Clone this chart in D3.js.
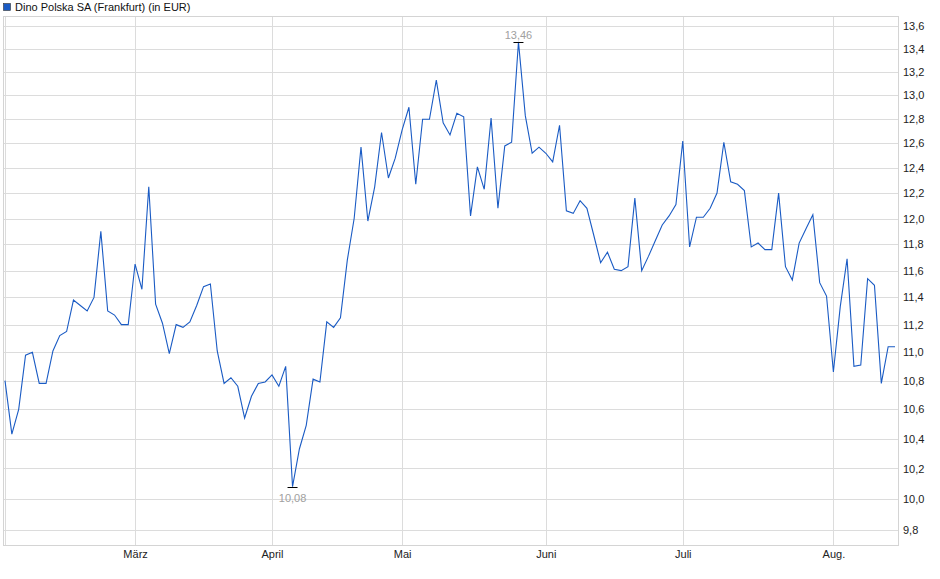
<!DOCTYPE html>
<html>
<head>
<meta charset="utf-8">
<script src="https://cdn.jsdelivr.net/npm/d3@7"></script>
<style>
  body { margin: 0; background: #fff; }
  text { font-family: "Liberation Sans", Arial, sans-serif; font-size: 11px; }
</style>
</head>
<body>
<svg id="chart" width="940" height="579"></svg>
<script>
// Daily closing prices (EUR), one per trading day
const prices = [
  10.80, 10.43, 10.60, 10.98, 11.00, 10.78, 10.78, 11.01, 11.12, 11.15,
  11.38, 11.34, 11.30, 11.40, 11.90, 11.30, 11.27, 11.20, 11.20, 11.65,
  11.46, 12.25, 11.35, 11.21, 10.99, 11.20, 11.18, 11.22, 11.34, 11.48,
  11.50, 11.01, 10.78, 10.82, 10.76, 10.54, 10.69, 10.78, 10.79, 10.84,
  10.76, 10.90, 10.08, 10.33, 10.49, 10.81, 10.79, 11.22, 11.18, 11.25,
  11.68, 12.00, 12.57, 11.98, 12.25, 12.69, 12.32, 12.48, 12.71, 12.90,
  12.27, 12.80, 12.80, 13.13, 12.77, 12.67, 12.85, 12.82, 12.02, 12.41,
  12.23, 12.81, 12.08, 12.58, 12.61, 13.46, 12.83, 12.52, 12.57, 12.52,
  12.45, 12.75, 12.06, 12.04, 12.14, 12.08, 11.87, 11.66, 11.74, 11.61,
  11.60, 11.63, 12.16, 11.60, 11.71, 11.83, 11.95, 12.02, 12.11, 12.62,
  11.78, 12.01, 12.01, 12.08, 12.20, 12.61, 12.29, 12.27, 12.22, 11.78,
  11.81, 11.76, 11.76, 12.20, 11.63, 11.53, 11.81, 11.92, 12.03, 11.51,
  11.41, 10.86, 11.33, 11.69, 10.90, 10.91, 11.54, 11.49, 10.78, 11.04,
  11.04
];
// first trading day of each month (index into prices)
const monthLabels = ["März", "April", "Mai", "Juni", "Juli", "Aug."];
const monthIdx = [19, 39, 58, 79, 99, 121];
const yTicks = [9.8, 10.0, 10.2, 10.4, 10.6, 10.8, 11.0, 11.2, 11.4, 11.6, 11.8,
  12.0, 12.2, 12.4, 12.6, 12.8, 13.0, 13.2, 13.4, 13.6];

const plotLeft = 3, plotRight = 898, plotTop = 16, plotBottom = 545;
const svg = d3.select("#chart");
const fmt = v => v.toFixed(2).replace(".", ",");

const x = d3.scaleLinear().domain([0, prices.length - 1]).range([5, 895]);
const y = d3.scaleLog().domain([9.8, 13.6]).range([530, 26]);

// grid
svg.append("g").selectAll("line").data(yTicks).join("line")
  .attr("x1", plotLeft).attr("x2", plotRight)
  .attr("y1", d => Math.round(y(d)) + 0.5).attr("y2", d => Math.round(y(d)) + 0.5)
  .attr("stroke", "#dcdcdc");
svg.append("g").selectAll("line").data([0].concat(monthIdx)).join("line")
  .attr("x1", d => Math.round(x(d)) + 0.5).attr("x2", d => Math.round(x(d)) + 0.5)
  .attr("y1", plotTop).attr("y2", plotBottom)
  .attr("stroke", "#dcdcdc");
svg.append("rect")
  .attr("x", plotLeft + 0.5).attr("y", plotTop + 0.5)
  .attr("width", plotRight - plotLeft).attr("height", plotBottom - plotTop)
  .attr("fill", "none").attr("stroke", "#d4d4d4");

// y axis labels (right)
const yAxis = d3.axisRight(y).tickValues(yTicks).tickSize(0).tickPadding(5)
  .tickFormat(d => d.toFixed(1).replace(".", ","));
svg.append("g").attr("transform", `translate(${plotRight},0)`).call(yAxis)
  .call(g => g.select(".domain").remove())
  .selectAll("text").attr("fill", "#222").style("font-size", "11px");

// x axis labels
const xAxis = d3.axisBottom(x).tickValues(monthIdx).tickSize(0).tickPadding(5)
  .tickFormat((d, i) => monthLabels[i]);
svg.append("g").attr("transform", `translate(0,${plotBottom})`).call(xAxis)
  .call(g => g.select(".domain").remove())
  .selectAll("text").attr("fill", "#222").style("font-size", "11px");

// price line
svg.append("path").datum(prices)
  .attr("fill", "none").attr("stroke", "#1a5bc4").attr("stroke-width", 1.1)
  .attr("d", d3.line().x((d, i) => x(i)).y(d => y(d)));

// min / max markers
const iMax = d3.maxIndex(prices), iMin = d3.minIndex(prices);
[[iMax, -4], [iMin, 14]].forEach(([i, dy]) => {
  const px = x(i), py = Math.round(y(prices[i])) + 0.5;
  svg.append("line").attr("x1", px - 5).attr("x2", px + 5)
    .attr("y1", py).attr("y2", py).attr("stroke", "#000");
  svg.append("text").attr("x", px).attr("y", py + dy)
    .attr("text-anchor", "middle").attr("fill", "#a0a0a0").text(fmt(prices[i]));
});

// legend
svg.append("rect").attr("x", 3.5).attr("y", 3.5).attr("width", 7).attr("height", 7)
  .attr("fill", "#1a5bc4").attr("stroke", "#333").attr("stroke-width", 0.6);
svg.append("text").attr("x", 15).attr("y", 11).attr("fill", "#111")
  .text("Dino Polska SA (Frankfurt) (in EUR)");
</script>
</body>
</html>
